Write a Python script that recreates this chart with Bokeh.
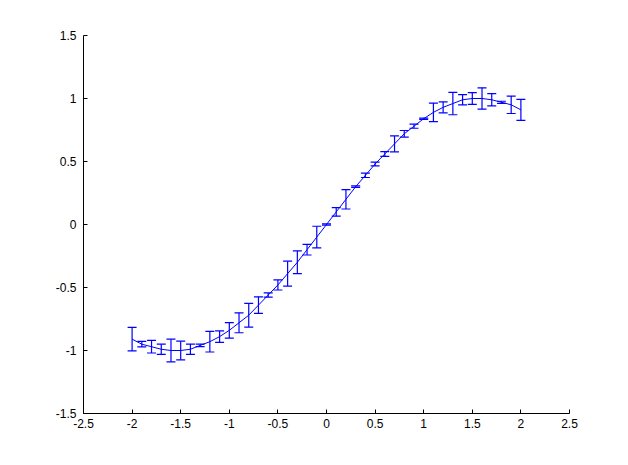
from bokeh.plotting import figure
from bokeh.models import ColumnDataSource, Whisker, TeeHead, FixedTicker, Range1d
from bokeh.embed import file_html
from bokeh.resources import INLINE

x = [-2.0, -1.9, -1.8, -1.7, -1.6, -1.5, -1.4, -1.3, -1.2, -1.1,
     -1.0, -0.9, -0.8, -0.7, -0.6, -0.5, -0.4, -0.3, -0.2, -0.1,
     0.0, 0.1, 0.2, 0.3, 0.4, 0.5, 0.6, 0.7, 0.8, 0.9,
     1.0, 1.1, 1.2, 1.3, 1.4, 1.5, 1.6, 1.7, 1.8, 1.9, 2.0]
y = [-0.91, -0.95, -0.97, -0.99, -1.0, -1.0, -0.99, -0.96, -0.93, -0.89,
     -0.84, -0.78, -0.72, -0.64, -0.56, -0.48, -0.39, -0.30, -0.20, -0.10,
     0.0, 0.10, 0.20, 0.30, 0.39, 0.48, 0.56, 0.64, 0.72, 0.78,
     0.84, 0.89, 0.93, 0.96, 0.99, 1.0, 1.0, 0.99, 0.97, 0.95, 0.91]
err = [0.093, 0.022, 0.05, 0.04, 0.09, 0.074, 0.041, 0.01, 0.082, 0.045,
       0.061, 0.079, 0.094, 0.066, 0.017, 0.04, 0.099, 0.09, 0.042, 0.086,
       0.005, 0.034, 0.077, 0.006, 0.017, 0.015, 0.019, 0.063, 0.026, 0.016,
       0.005, 0.074, 0.044, 0.089, 0.041, 0.046, 0.085, 0.049, 0.008, 0.069, 0.083]

x_ticks = [-2.5, -2, -1.5, -1, -0.5, 0, 0.5, 1, 1.5, 2, 2.5]
x_tick_labels = ["-2.5", "-2", "-1.5", "-1", "-0.5", "0", "0.5", "1", "1.5", "2", "2.5"]
y_ticks = [-1.5, -1, -0.5, 0, 0.5, 1, 1.5]
y_tick_labels = ["-1.5", "-1", "-0.5", "0", "0.5", "1", "1.5"]

lower = [a - e for a, e in zip(y, err)]
upper = [a + e for a, e in zip(y, err)]
src = ColumnDataSource(dict(x=x, y=y, lower=lower, upper=upper))

p = figure(width=620, height=457, output_backend="svg", toolbar_location=None,
           x_range=Range1d(-2.5, 2.5), y_range=Range1d(-1.5, 1.5),
           min_border_left=83, min_border_right=51, min_border_top=35, min_border_bottom=44)
p.outline_line_color = None
p.xgrid.visible = False
p.ygrid.visible = False
p.background_fill_color = "white"
p.border_fill_color = "white"

blue = "#0000ff"
p.line("x", "y", source=src, line_color=blue, line_width=1)
w = Whisker(source=src, base="x", lower="lower", upper="upper",
            line_color=blue, line_width=1.2,
            lower_head=TeeHead(size=9, line_color=blue, line_width=1.2),
            upper_head=TeeHead(size=9, line_color=blue, line_width=1.2))
p.add_layout(w)

for ax, ticks, labels in ((p.xaxis[0], x_ticks, x_tick_labels), (p.yaxis[0], y_ticks, y_tick_labels)):
    ax.ticker = FixedTicker(ticks=ticks)
    ax.major_label_overrides = {t: l for t, l in zip(ticks, labels)}
    ax.major_tick_in = 4
    ax.major_tick_out = 0
    ax.minor_tick_line_color = None
    ax.axis_line_color = "black"
    ax.major_tick_line_color = "black"
    ax.major_label_text_font = "Liberation Sans"
    ax.major_label_text_font_size = "12px"
    ax.major_label_text_color = "black"
p.xaxis[0].major_label_standoff = 5
p.yaxis[0].major_label_standoff = 7

open("out.html", "w").write(file_html(p, INLINE))
